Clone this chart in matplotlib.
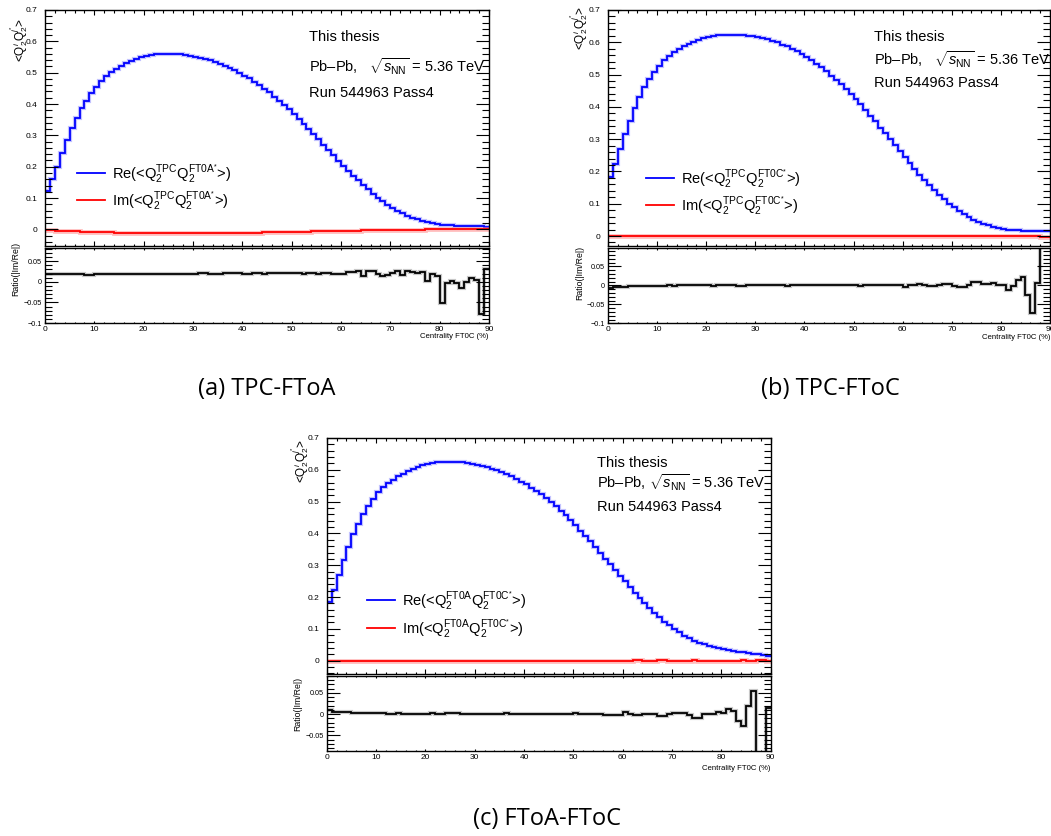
import numpy as np
import matplotlib
matplotlib.use("Agg")
import matplotlib.pyplot as plt
from matplotlib.lines import Line2D
from matplotlib.ticker import MultipleLocator, FuncFormatter

plt.rcParams['font.family'] = ['Liberation Sans', 'DejaVu Sans']
plt.rcParams['mathtext.fontset'] = 'custom'
plt.rcParams['mathtext.rm'] = 'Liberation Sans'
plt.rcParams['mathtext.it'] = 'Liberation Sans:italic'
plt.rcParams['mathtext.bf'] = 'Liberation Sans:bold'

# centrality bins (FT0C), 1% wide
centrality_edges = np.arange(0, 91, 1)

# ---- TPC x FT0A* ----
re_tpc_ft0a = [0.123, 0.161, 0.200, 0.245, 0.285, 0.322, 0.354, 0.386, 0.411, 0.434,
               0.455, 0.473, 0.489, 0.501, 0.512, 0.521, 0.530, 0.537, 0.544, 0.549,
               0.553, 0.556, 0.559, 0.560, 0.561, 0.561, 0.560, 0.559, 0.556, 0.554,
               0.551, 0.548, 0.544, 0.539, 0.534, 0.529, 0.522, 0.516, 0.509, 0.500,
               0.491, 0.482, 0.471, 0.461, 0.449, 0.437, 0.424, 0.411, 0.397, 0.383,
               0.368, 0.352, 0.336, 0.320, 0.304, 0.287, 0.270, 0.253, 0.236, 0.219,
               0.203, 0.187, 0.171, 0.156, 0.141, 0.128, 0.114, 0.101, 0.089, 0.079,
               0.068, 0.060, 0.051, 0.044, 0.037, 0.032, 0.027, 0.022, 0.019, 0.017,
               0.015, 0.014, 0.013, 0.012, 0.012, 0.011, 0.011, 0.010, 0.010, 0.009]
im_tpc_ft0a = [-0.002, -0.003, -0.004, -0.005, -0.005, -0.006, -0.006, -0.007, -0.007, -0.007,
               -0.008, -0.009, -0.009, -0.009, -0.010, -0.010, -0.011, -0.010, -0.011, -0.010,
               -0.010, -0.011, -0.011, -0.011, -0.011, -0.011, -0.011, -0.011, -0.011, -0.011,
               -0.010, -0.012, -0.011, -0.010, -0.011, -0.011, -0.011, -0.011, -0.011, -0.010,
               -0.010, -0.010, -0.010, -0.010, -0.009, -0.009, -0.009, -0.009, -0.008, -0.008,
               -0.008, -0.008, -0.007, -0.007, -0.006, -0.006, -0.006, -0.005, -0.005, -0.004,
               -0.004, -0.004, -0.004, -0.004, -0.002, -0.003, -0.003, -0.002, -0.001, -0.001,
               -0.001, -0.002, -0.001, -0.001, -0.001, -0.001, -0.001, 0.000, 0.000, 0.000,
               0.001, 0.000, 0.000, 0.000, 0.000, 0.000, 0.000, 0.000, 0.001, 0.000]
ratio_tpc_ft0a = [0.020, 0.018, 0.019, 0.020, 0.019, 0.018, 0.018, 0.018, 0.017, 0.017,
                  0.018, 0.019, 0.018, 0.018, 0.019, 0.020, 0.020, 0.019, 0.020, 0.018,
                  0.018, 0.019, 0.019, 0.020, 0.020, 0.019, 0.020, 0.019, 0.020, 0.020,
                  0.019, 0.021, 0.021, 0.019, 0.020, 0.020, 0.021, 0.021, 0.021, 0.021,
                  0.020, 0.020, 0.021, 0.021, 0.020, 0.021, 0.021, 0.021, 0.021, 0.021,
                  0.021, 0.022, 0.020, 0.021, 0.021, 0.020, 0.021, 0.021, 0.020, 0.018,
                  0.018, 0.024, 0.024, 0.027, 0.015, 0.027, 0.025, 0.020, 0.014, 0.016,
                  0.022, 0.026, 0.016, 0.027, 0.023, 0.022, 0.023, 0.002, 0.018, 0.015,
                  -0.051, -0.004, 0.002, -0.002, -0.016, -0.001, 0.010, 0.004, -0.077, 0.030]

# ---- TPC x FT0C* ----
re_tpc_ft0c = [0.184, 0.223, 0.268, 0.316, 0.357, 0.396, 0.429, 0.460, 0.486, 0.509,
               0.527, 0.544, 0.557, 0.569, 0.579, 0.587, 0.595, 0.602, 0.608, 0.613,
               0.617, 0.620, 0.622, 0.623, 0.624, 0.624, 0.624, 0.623, 0.621, 0.619,
               0.616, 0.613, 0.609, 0.605, 0.600, 0.593, 0.587, 0.580, 0.573, 0.563,
               0.554, 0.544, 0.533, 0.522, 0.510, 0.497, 0.484, 0.470, 0.455, 0.440,
               0.424, 0.408, 0.390, 0.373, 0.355, 0.336, 0.318, 0.299, 0.281, 0.262,
               0.244, 0.225, 0.207, 0.190, 0.173, 0.157, 0.141, 0.127, 0.114, 0.100,
               0.089, 0.077, 0.067, 0.059, 0.051, 0.044, 0.038, 0.033, 0.029, 0.025,
               0.022, 0.020, 0.019, 0.018, 0.017, 0.017, 0.016, 0.016, 0.016, 0.016]
im_tpc_ft0c = [0.001, 0.001, 0.001, 0.001, 0.001, 0.001, 0.001, 0.000, 0.000, 0.001,
               0.000, 0.000, 0.000, 0.001, 0.000, 0.000, 0.000, 0.000, -0.001, 0.000,
               -0.001, 0.000, 0.000, 0.000, 0.000, 0.000, 0.001, 0.000, 0.000, 0.000,
               0.000, 0.000, 0.000, -0.001, 0.000, 0.000, 0.001, 0.000, 0.000, -0.001,
               -0.001, 0.000, 0.000, -0.001, 0.000, 0.000, -0.001, 0.000, 0.000, 0.000,
               0.000, 0.001, 0.000, 0.000, -0.001, 0.000, 0.000, 0.000, 0.000, 0.000,
               0.001, 0.000, 0.000, -0.001, 0.000, 0.000, 0.000, 0.000, 0.000, 0.000,
               0.000, 0.000, 0.000, 0.000, -0.001, 0.000, 0.000, 0.000, 0.000, 0.000,
               0.000, 0.000, 0.000, 0.000, 0.000, 0.000, 0.001, 0.000, -0.002, -0.002]
ratio_tpc_ft0c = [-0.007, -0.004, -0.003, -0.004, -0.002, -0.002, -0.002, -0.001, -0.001, -0.002,
                  -0.001, -0.001, 0.000, -0.001, 0.000, 0.000, 0.000, 0.001, 0.001, 0.001,
                  0.002, -0.001, 0.000, 0.001, 0.000, 0.000, -0.001, -0.001, 0.000, 0.000,
                  0.001, 0.000, 0.000, 0.001, 0.000, 0.000, -0.002, 0.000, 0.001, 0.001,
                  0.002, 0.001, 0.001, 0.002, 0.001, 0.001, 0.002, 0.001, 0.001, 0.000,
                  0.001, -0.002, 0.001, 0.001, 0.002, 0.001, 0.001, 0.001, 0.001, 0.001,
                  -0.003, 0.000, 0.001, 0.003, 0.001, -0.001, -0.001, 0.002, 0.003, 0.003,
                  -0.002, -0.003, -0.003, 0.001, 0.010, 0.010, 0.003, 0.005, 0.006, 0.002,
                  0.000, -0.012, -0.002, 0.013, 0.022, -0.024, -0.074, 0.006, 0.120, 0.120]

# ---- FT0A x FT0C* ----
re_ft0a_ft0c = [0.183, 0.222, 0.268, 0.315, 0.358, 0.398, 0.429, 0.461, 0.487, 0.508,
                0.529, 0.545, 0.557, 0.569, 0.579, 0.588, 0.596, 0.602, 0.609, 0.614,
                0.618, 0.621, 0.623, 0.624, 0.624, 0.624, 0.624, 0.623, 0.621, 0.618,
                0.615, 0.612, 0.608, 0.604, 0.599, 0.593, 0.587, 0.580, 0.572, 0.563,
                0.554, 0.544, 0.534, 0.523, 0.511, 0.499, 0.486, 0.472, 0.457, 0.441,
                0.425, 0.409, 0.392, 0.375, 0.357, 0.339, 0.321, 0.303, 0.285, 0.267,
                0.249, 0.231, 0.214, 0.197, 0.181, 0.165, 0.150, 0.136, 0.123, 0.111,
                0.099, 0.089, 0.079, 0.071, 0.063, 0.057, 0.051, 0.046, 0.042, 0.039,
                0.036, 0.034, 0.031, 0.028, 0.026, 0.024, 0.022, 0.020, 0.018, 0.016]
im_ft0a_ft0c = [-0.002, -0.001, -0.001, -0.002, -0.001, -0.001, -0.001, -0.001, -0.001, -0.002,
                -0.001, -0.001, -0.001, -0.001, -0.001, -0.001, 0.000, 0.000, -0.001, 0.000,
                -0.001, -0.001, -0.001, -0.001, -0.001, -0.002, -0.001, -0.001, 0.000, -0.001,
                0.000, -0.001, 0.000, 0.000, -0.001, -0.001, -0.002, 0.000, 0.000, -0.001,
                0.000, 0.000, 0.000, 0.000, 0.000, 0.000, 0.000, 0.000, 0.000, 0.000,
                -0.001, 0.000, 0.000, 0.000, 0.000, 0.000, 0.000, 0.000, 0.000, 0.000,
                -0.001, 0.000, 0.001, 0.001, 0.000, 0.000, 0.000, 0.001, 0.001, 0.000,
                0.000, 0.000, 0.000, 0.000, 0.001, 0.000, 0.000, 0.000, 0.000, 0.000,
                0.000, 0.000, 0.000, 0.000, 0.001, 0.000, -0.001, 0.002, 0.002, 0.000]
ratio_ft0a_ft0c = [0.009, 0.006, 0.005, 0.006, 0.004, 0.003, 0.003, 0.003, 0.002, 0.003,
                   0.002, 0.002, 0.001, 0.001, 0.002, 0.001, 0.001, 0.000, 0.001, 0.000,
                   0.001, 0.002, 0.001, 0.001, 0.002, 0.003, 0.002, 0.001, 0.000, 0.001,
                   0.000, 0.001, 0.000, 0.000, 0.001, 0.001, 0.003, 0.000, 0.000, 0.001,
                   0.001, 0.001, 0.001, 0.001, 0.000, 0.001, 0.000, 0.001, 0.001, 0.000,
                   0.003, 0.000, 0.000, 0.000, 0.000, 0.000, -0.001, -0.001, -0.001, -0.002,
                   0.004, 0.001, -0.003, -0.003, 0.001, 0.001, 0.001, -0.005, -0.005, 0.001,
                   0.003, 0.002, 0.002, -0.001, -0.009, -0.008, 0.000, 0.000, 0.000, 0.004,
                   0.003, 0.011, 0.007, -0.016, -0.027, 0.020, 0.054, -0.120, -0.120, 0.015]

W, H = 1051, 836
fig = plt.figure(figsize=(W / 100, H / 100), dpi=100)


def fx(x):
    return x / W


def fy(y):
    return 1 - y / H


def px_rect(l, r, t, b):
    return [l / W, 1 - b / H, (r - l) / W, (b - t) / H]


def tick_fmt(v, pos):
    s = f"{v:g}"
    if s == "-0":
        s = "0"
    return s.replace("-", "\u2212")


def frame(ax, ylen_major, ylen_minor, xlen_major, xlen_minor, ysize, ypad):
    ax.set_xlim(0, 90)
    ax.xaxis.set_major_locator(MultipleLocator(10))
    ax.xaxis.set_minor_locator(MultipleLocator(2))
    ax.tick_params(axis='both', which='both', direction='in', top=True, right=True,
                   width=0.8, colors='black')
    ax.tick_params(axis='y', which='major', length=ylen_major, labelsize=ysize, pad=ypad)
    ax.tick_params(axis='y', which='minor', length=ylen_minor)
    ax.tick_params(axis='x', which='major', length=xlen_major)
    ax.tick_params(axis='x', which='minor', length=xlen_minor)
    ax.yaxis.set_major_formatter(FuncFormatter(tick_fmt))
    for s in ax.spines.values():
        s.set_linewidth(1.0)
    ax.patch.set_alpha(0)


def draw_panel(main_box, ratio_box, re_vals, im_vals, ratio_vals, main_ylim, ratio_ylim,
               tag, text_x, text_ys, pbpb, leg_x, leg_ys, ylab_xy, rlab_xy, xlab_y):
    ax = fig.add_axes(px_rect(*main_box))
    axr = fig.add_axes(px_rect(*ratio_box))

    # main pad: real and imaginary parts
    ax.stairs(re_vals, centrality_edges, baseline=None, color='#9a9aff', lw=3.0, alpha=0.6)
    ax.stairs(re_vals, centrality_edges, baseline=None, color='#0000ff', lw=1.3)
    ax.stairs(im_vals, centrality_edges, baseline=None, color='#ff9090', lw=3.4, alpha=0.6)
    ax.stairs(im_vals, centrality_edges, baseline=None, color='#ff0000', lw=1.3)
    ax.set_ylim(*main_ylim)
    ax.yaxis.set_major_locator(MultipleLocator(0.1))
    ax.yaxis.set_minor_locator(MultipleLocator(0.02))
    frame(ax, 9.5, 5.0, 3.6, 1.8, 6.0, 5.5)
    ax.tick_params(axis='x', labelbottom=False)

    # ratio pad
    axr.stairs(ratio_vals, centrality_edges, baseline=None, color='#b0b0b0', lw=3.0, alpha=0.7)
    axr.stairs(ratio_vals, centrality_edges, baseline=None, color='black', lw=1.3)
    axr.set_ylim(*ratio_ylim)
    axr.yaxis.set_major_locator(MultipleLocator(0.05))
    axr.yaxis.set_minor_locator(MultipleLocator(0.01))
    frame(axr, 9.5, 5.0, 1.6, 0.8, 5.2, 2.0)
    axr.tick_params(axis='x', labelsize=6.0, pad=2.0)
    axr.xaxis.set_major_formatter(FuncFormatter(tick_fmt))

    r = main_box[1]

    # axis titles
    fig.text(fx(ylab_xy[0]), fy(ylab_xy[1]),
             r'<$\mathrm{Q}_{2}^{i}\mathrm{Q}_{2}^{j^{*}}$>',
             rotation=90, ha='center', va='top', fontsize=8.5)
    fig.text(fx(rlab_xy[0]), fy(rlab_xy[1]), 'Ratio(|Im/Re|)',
             rotation=90, ha='center', va='top', fontsize=6.3)
    fig.text(fx(r), fy(xlab_y), 'Centrality FT0C (%)', ha='right', va='center', fontsize=5.6)

    # header text
    fig.text(fx(text_x), fy(text_ys[0]), 'This thesis', fontsize=10.5, va='baseline')
    fig.text(fx(text_x), fy(text_ys[1]), pbpb, fontsize=10.5, va='baseline')
    fig.text(fx(text_x), fy(text_ys[2]), 'Run 544963 Pass4', fontsize=10.5, va='baseline')

    # legend
    a, b = tag
    entries = [
        ('#0000ff', r'Re(<$\mathrm{Q}_{2}^{\mathrm{%s}}\mathrm{Q}_{2}^{\mathrm{%s}^{*}}$>)' % (a, b)),
        ('#ff0000', r'Im(<$\mathrm{Q}_{2}^{\mathrm{%s}}\mathrm{Q}_{2}^{\mathrm{%s}^{*}}$>)' % (a, b)),
    ]
    for (col, lab), yy in zip(entries, leg_ys):
        fig.add_artist(Line2D([fx(leg_x), fx(leg_x + 28)], [fy(yy), fy(yy)], color=col, lw=1.3))
        fig.text(fx(leg_x + 35), fy(yy + 1), lab, fontsize=10.5, va='center')


pbpb_wide = 'Pb\u2013Pb,   $\\sqrt{s_{\\mathrm{NN}}}$ = 5.36 TeV'
pbpb_narrow = 'Pb\u2013Pb, $\\sqrt{s_{\\mathrm{NN}}}$ = 5.36 TeV'

draw_panel((45, 489, 10, 246), (45, 489, 248, 323),
           re_tpc_ft0a, im_tpc_ft0a, ratio_tpc_ft0a, (-0.053, 0.7), (-0.1, 0.082),
           ('TPC', 'FT0A'), 309, (40.7, 71.7, 97.3), pbpb_wide, 77, (172.7, 200.0),
           (19, 18), (16, 242), 337)

draw_panel((608, 1050, 10, 245.7), (608, 1050, 248.3, 323.3),
           re_tpc_ft0c, im_tpc_ft0c, ratio_tpc_ft0c, (-0.03, 0.7), (-0.1, 0.098),
           ('TPC', 'FT0C'), 874.3, (40.7, 65.0, 87.3), pbpb_wide, 646, (178.0, 205.0),
           (579, 6), (580, 246), 338)

draw_panel((326.7, 770.7, 438, 674), (326.7, 770.7, 676, 751),
           re_ft0a_ft0c, im_ft0a_ft0c, ratio_ft0a_ft0c, (-0.042, 0.7), (-0.087, 0.09),
           ('FT0A', 'FT0C'), 597.3, (466.7, 488.3, 510.7), pbpb_narrow, 367, (600.0, 628.0),
           (300, 439), (298, 677), 768)

# sub-figure captions
cap_font = dict(family=['Open Sans', 'DejaVu Sans'], fontsize=17, ha='center', va='center')
fig.text(fx(267), fy(389), '(a) TPC-FToA', **cap_font)
fig.text(fx(830), fy(389), '(b) TPC-FToC', **cap_font)
fig.text(fx(547), fy(819), '(c) FToA-FToC', **cap_font)

fig.savefig('out.png', dpi=100)
